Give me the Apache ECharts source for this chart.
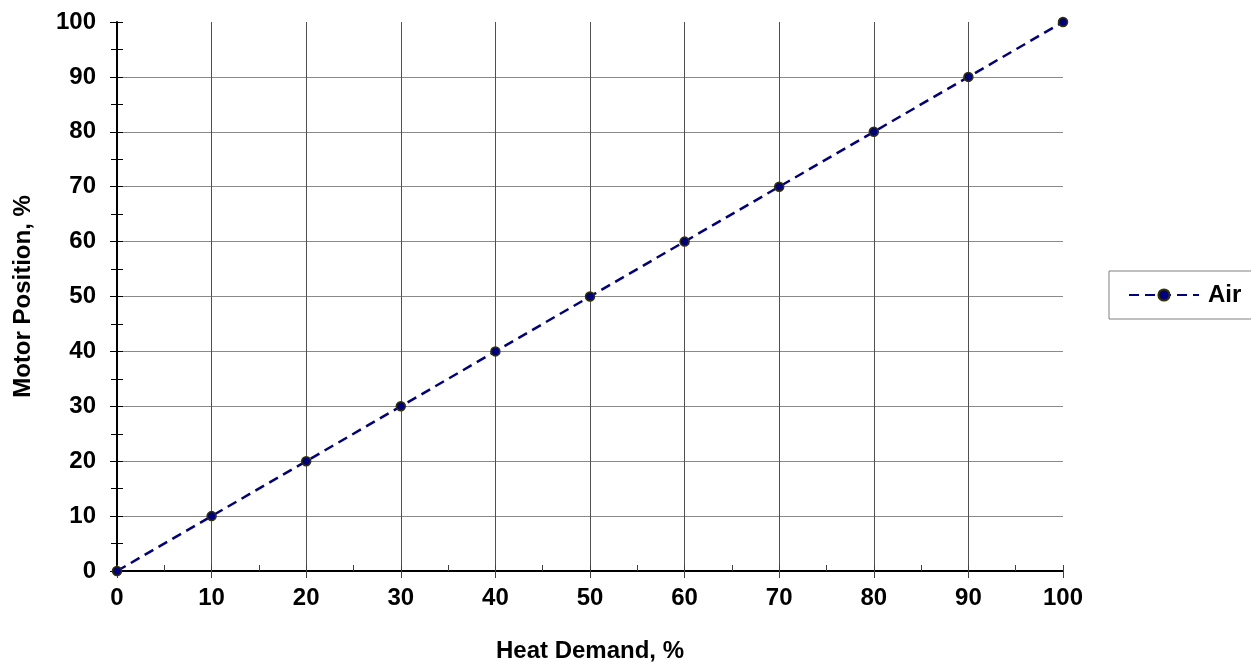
<!DOCTYPE html>
<html>
<head>
<meta charset="utf-8">
<script src="https://cdn.jsdelivr.net/npm/echarts@6/dist/echarts.min.js"></script>
<style>
html,body{margin:0;padding:0;background:#fff;}
#chart{width:1251px;height:666px;}
</style>
</head>
<body>
<div id="chart"></div>
<script>
const heatDemand = [0, 10, 20, 30, 40, 50, 60, 70, 80, 90, 100];
const motorPositionAir = [0, 10, 20, 30, 40, 50, 60, 70, 80, 90, 100];
const seriesName = 'Air';
const xTitle = 'Heat Demand, %';
const yTitle = 'Motor Position, %';

const FONT = '"Liberation Sans", Arial, sans-serif';
const chart = echarts.init(document.getElementById('chart'));
const pairs = heatDemand.map((x, i) => [x, motorPositionAir[i]]);

chart.setOption({
  animation: false,
  backgroundColor: '#ffffff',
  grid: { left: 117, right: 188, top: 22, bottom: 95, containLabel: false, outerBoundsMode: 'none' },
  legend: {
    show: true,
    left: 1109, top: 271,
    orient: 'vertical',
    backgroundColor: '#fff',
    borderColor: '#808080',
    borderWidth: 1,
    borderRadius: 0,
    padding: [12, 20, 12, 19],
    itemWidth: 70,
    itemHeight: 14,
    textStyle: { fontFamily: FONT, fontWeight: 'bold', fontSize: 24, color: '#000', padding: [0, 0, 0, 4] },
    data: [seriesName]
  },
  xAxis: [
    {
      type: 'value', min: 0, max: 100, interval: 10,
      name: xTitle, nameLocation: 'middle', nameGap: 68,
      nameTextStyle: { fontFamily: FONT, fontWeight: 'bold', fontSize: 24, color: '#000' },
      axisLine: { show: true, onZero: false, lineStyle: { color: '#000', width: 2 } },
      axisTick: { show: true, inside: false, length: 7, lineStyle: { color: '#404040', width: 1 } },
      axisLabel: { fontFamily: FONT, fontWeight: 'bold', fontSize: 24, color: '#000', margin: 15 },
      splitLine: { show: true, showMaxLine: false, lineStyle: { color: '#505050', width: 1 } }
    },
    {
      type: 'value', min: 0, max: 100, interval: 5, position: 'bottom',
      axisLine: { show: false },
      axisTick: { show: true, inside: true, length: 6, lineStyle: { color: '#404040', width: 1 } },
      axisLabel: { show: false },
      splitLine: { show: false }
    }
  ],
  yAxis: [
    {
      type: 'value', min: 0, max: 100, interval: 10,
      name: yTitle, nameLocation: 'middle', nameGap: 82,
      nameTextStyle: { fontFamily: FONT, fontWeight: 'bold', fontSize: 24, color: '#000' },
      axisLine: { show: true, onZero: false, lineStyle: { color: '#000', width: 2 } },
      axisTick: { show: true, inside: false, length: 7, lineStyle: { color: '#000', width: 1 } },
      minorTick: { show: true, splitNumber: 2, length: 6, lineStyle: { color: '#000', width: 1 } },
      axisLabel: { fontFamily: FONT, fontWeight: 'bold', fontSize: 24, color: '#000', margin: 21 },
      splitLine: { show: true, showMaxLine: false, lineStyle: { color: '#8a8a8a', width: 1 } }
    },
    {
      type: 'value', min: 0, max: 100, interval: 5, position: 'left',
      axisLine: { show: false },
      axisTick: { show: true, inside: true, length: 6, lineStyle: { color: '#000', width: 1 } },
      axisLabel: { show: false },
      splitLine: { show: false }
    }
  ],
  series: [
    {
      name: seriesName,
      type: 'line',
      xAxisIndex: 0, yAxisIndex: 0,
      data: pairs,
      symbol: 'circle',
      symbolSize: 9,
      itemStyle: { color: '#000080', borderColor: '#333300', borderWidth: 1.5 },
      lineStyle: { color: '#000080', width: 2.5, type: [10, 6] },
      z: 5
    }
  ]
});
</script>
</body>
</html>
